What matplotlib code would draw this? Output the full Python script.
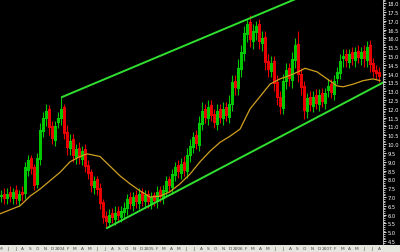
import numpy as np
import matplotlib
matplotlib.use("Agg")
import matplotlib.pyplot as plt
from matplotlib.patches import Rectangle
from matplotlib.ticker import MultipleLocator, FormatStrFormatter

# candles, oldest first (x measured in months, Jan 2003 = 0)
x_start = 4.116
x_step = 0.4043

opens = [7.0, 7.2, 6.9, 7.3, 6.9, 7.4, 6.8, 7.3, 7.2, 8.5,
         9.2, 8.7, 7.7, 9.1, 10.7, 11.4, 12.0, 11.0, 10.2, 11.2,
         11.4, 12.1, 10.7, 9.7, 10.3, 9.2, 9.8, 9.1, 9.7, 8.8,
         8.4, 7.5, 8.0, 7.5, 6.7, 5.9, 5.5, 6.1, 5.7, 6.2,
         5.8, 6.1, 6.3, 7.0, 6.5, 7.1, 6.6, 7.3, 6.7, 7.2,
         6.6, 7.1, 6.7, 7.4, 6.9, 7.3, 8.0, 7.5, 8.2, 8.8,
         8.3, 9.0, 8.4, 9.3, 9.8, 10.5, 9.9, 11.1, 12.0, 11.4,
         12.2, 11.7, 11.1, 12.0, 11.4, 12.1, 11.5, 12.2, 13.6, 13.1,
         14.2, 15.1, 16.2, 16.9, 15.8, 16.3, 16.8, 15.7, 16.1, 14.7,
         14.1, 14.7, 13.5, 12.7, 12.0, 13.5, 14.3, 13.6, 14.7, 15.7,
         14.0, 13.3, 11.8, 12.7, 12.1, 12.8, 12.2, 12.9, 12.3, 13.0,
         13.4, 12.8, 13.7, 14.0, 14.8, 15.1, 14.6, 15.2, 14.7, 15.3,
         14.8, 15.3, 14.7, 15.6, 14.6, 14.2, 14.1]
highs = [7.4, 7.5, 7.5, 7.6, 7.5, 7.7, 7.4, 7.6, 9.0, 9.4,
         9.4, 8.9, 9.5, 11.2, 11.8, 12.3, 12.2, 11.3, 11.3, 11.8,
         12.65, 12.3, 11.1, 10.6, 10.6, 10.0, 10.1, 9.9, 10.0, 9.1,
         8.6, 8.2, 8.2, 7.8, 6.9, 6.2, 6.3, 6.4, 6.5, 6.5,
         6.5, 6.7, 7.2, 7.3, 7.3, 7.4, 7.5, 7.5, 7.4, 7.4,
         7.3, 7.3, 7.6, 7.6, 7.7, 8.2, 8.2, 8.6, 9.0, 9.1,
         9.2, 9.3, 9.8, 10.3, 10.7, 10.8, 11.6, 12.4, 12.3, 12.5,
         12.5, 12.0, 12.3, 12.3, 12.4, 12.4, 12.8, 13.9, 13.9, 14.8,
         15.6, 16.7, 17.1, 17.3, 16.8, 17.0, 17.1, 16.4, 16.4, 15.1,
         15.0, 15.0, 13.9, 13.0, 14.0, 14.6, 14.6, 15.2, 16.0, 16.4,
         14.3, 13.6, 12.9, 13.0, 13.0, 13.1, 13.1, 13.2, 13.2, 13.7,
         13.7, 13.9, 14.4, 15.1, 15.4, 15.4, 15.4, 15.5, 15.5, 15.6,
         15.5, 15.6, 15.85, 15.9, 14.9, 14.5, 14.4]
lows = [6.7, 6.6, 6.6, 6.7, 6.6, 6.6, 6.5, 6.8, 6.9, 8.2,
        8.3, 7.4, 7.5, 8.8, 10.4, 11.0, 10.5, 10.0, 9.9, 10.9,
        11.1, 10.3, 9.4, 9.4, 9.0, 8.9, 8.9, 8.8, 8.4, 8.0,
        7.3, 7.2, 7.1, 6.3, 5.5, 5.3, 5.3, 5.5, 5.4, 5.6,
        5.6, 5.8, 6.0, 6.3, 6.2, 6.4, 6.3, 6.5, 6.4, 6.4,
        6.3, 6.5, 6.4, 6.7, 6.6, 7.0, 7.3, 7.2, 7.9, 8.1,
        8.0, 8.2, 8.1, 9.0, 9.5, 9.7, 9.6, 10.8, 11.2, 11.1,
        11.3, 10.9, 10.8, 11.2, 11.1, 11.3, 11.2, 11.9, 12.8, 12.8,
        13.8, 14.7, 15.8, 15.5, 15.4, 15.9, 15.4, 15.3, 14.2, 13.8,
        13.8, 13.0, 12.2, 11.7, 11.7, 13.1, 13.3, 13.2, 14.3, 13.5,
        12.8, 11.4, 11.5, 11.9, 11.8, 12.0, 11.9, 12.1, 12.0, 12.7,
        12.6, 12.5, 13.4, 13.7, 14.4, 14.4, 14.3, 14.5, 14.4, 14.6,
        14.5, 14.4, 14.4, 14.1, 13.8, 13.7, 13.5]
closes = [7.1, 6.9, 7.2, 7.0, 7.3, 6.9, 7.2, 7.1, 8.7, 9.1,
          8.6, 7.6, 9.2, 10.8, 11.5, 11.9, 10.9, 10.3, 11.0, 11.5,
          12.0, 10.6, 9.8, 10.2, 9.3, 9.7, 9.2, 9.6, 8.7, 8.3,
          7.6, 7.9, 7.4, 6.6, 5.8, 5.6, 6.0, 5.8, 6.1, 5.9,
          6.2, 6.4, 6.9, 6.6, 7.0, 6.7, 7.2, 6.8, 7.1, 6.7,
          7.0, 6.8, 7.3, 7.0, 7.4, 7.9, 7.6, 8.3, 8.7, 8.4,
          8.9, 8.5, 9.4, 9.9, 10.4, 10.0, 11.2, 11.9, 11.5, 12.1,
          11.6, 11.2, 11.9, 11.5, 12.0, 11.6, 12.3, 13.5, 13.2, 14.3,
          15.2, 16.3, 16.8, 15.9, 16.4, 16.7, 15.8, 16.0, 14.6, 14.2,
          14.6, 13.4, 12.6, 12.1, 13.6, 14.2, 13.7, 14.8, 15.6, 13.9,
          13.2, 11.9, 12.6, 12.2, 12.7, 12.3, 12.8, 12.4, 12.9, 13.3,
          12.9, 13.6, 14.1, 14.7, 15.0, 14.7, 15.1, 14.8, 15.2, 14.9,
          15.2, 14.8, 15.5, 14.5, 14.1, 14.0, 13.8]

# moving average
ma_x = [3.91, 6.61, 7.96, 9.30, 12.0, 13.35, 14.70, 15.64, 17.39, 18.74,
        20.09, 21.43, 22.78, 24.13, 25.48, 26.82, 28.17, 29.52, 30.87, 32.22,
        33.56, 34.91, 36.26, 37.61, 38.96, 40.30, 41.65, 43.0, 44.35, 45.02,
        46.64, 47.99, 49.34, 50.15, 51.50, 52.85, 54.19, 55.13]
ma_y = [6.05, 6.5, 7.05, 7.45, 8.4, 9.0, 9.3, 9.45, 9.3, 8.75,
        8.2, 7.75, 7.35, 7.0, 7.05, 7.3, 7.75, 8.3, 9.0, 9.6,
        10.1, 10.45, 10.85, 12.0, 12.7, 13.4, 13.7, 13.9, 14.15, 14.3,
        14.1, 13.7, 13.3, 13.25, 13.4, 13.6, 13.7, 13.6]

# trend channel
upper_x = [12.27, 48.4]
upper_y = [12.67, 19.05]
lower_x = [18.33, 55.53]
lower_y = [5.24, 13.49]

month_letters = ["J", "F", "M", "A", "M", "J", "J", "A", "S", "O", "N", "D"]

opens = np.array(opens)
closes = np.array(closes)
highs = np.array(highs)
lows = np.array(lows)
xs = x_start + x_step * np.arange(len(closes))
up = closes >= opens
cols = np.where(up, "#00c800", "#e80000")

fig = plt.figure(figsize=(4, 2.53), dpi=100, facecolor="black")
fig.patches.append(Rectangle((0, 0), 1, 7 / 253, transform=fig.transFigure,
                             facecolor="#e6e6de", edgecolor="none", zorder=-5))
ax = fig.add_axes([0, 7 / 253, 383 / 400, 246 / 253])
ax.set_facecolor("black")

ax.vlines(xs, lows, highs, colors=cols, linewidth=0.8)
ax.bar(xs, np.abs(closes - opens), bottom=np.minimum(opens, closes),
       width=x_step * 0.75, color=cols, linewidth=0)

ax.plot(ma_x, ma_y, color="#d0a020", linewidth=0.9)
ax.plot(upper_x, upper_y, color="#30e030", linewidth=1.4)
ax.plot(lower_x, lower_y, color="#30e030", linewidth=1.4)

ax.set_xlim(3.914, 55.53)
ax.set_ylim(4.28, 18.23)

# y axis on the right
ax.yaxis.tick_right()
ax.yaxis.set_major_locator(MultipleLocator(0.5))
ax.yaxis.set_minor_locator(MultipleLocator(0.1))
ax.yaxis.set_major_formatter(FormatStrFormatter("%.1f"))
ax.tick_params(axis="y", which="major", colors="white", labelsize=3.7,
               length=2.5, width=0.6, pad=1)
ax.tick_params(axis="y", which="minor", colors="white", length=1.2, width=0.5)

# month ticks
months = list(range(4, 56))
labels = []
for m in months:
    if m % 12 == 0:
        labels.append(str(2003 + m // 12))
    else:
        labels.append(month_letters[m % 12])
ax.set_xticks(months)
ax.set_xticklabels(labels)
ax.tick_params(axis="x", colors="#444444", labelsize=3.1, length=0, pad=1.0)

for s in ["top", "left", "bottom"]:
    ax.spines[s].set_visible(False)
ax.spines["right"].set_color("#cccccc")
ax.spines["right"].set_linewidth(0.6)

plt.savefig("out.png", dpi=100, facecolor="black")
